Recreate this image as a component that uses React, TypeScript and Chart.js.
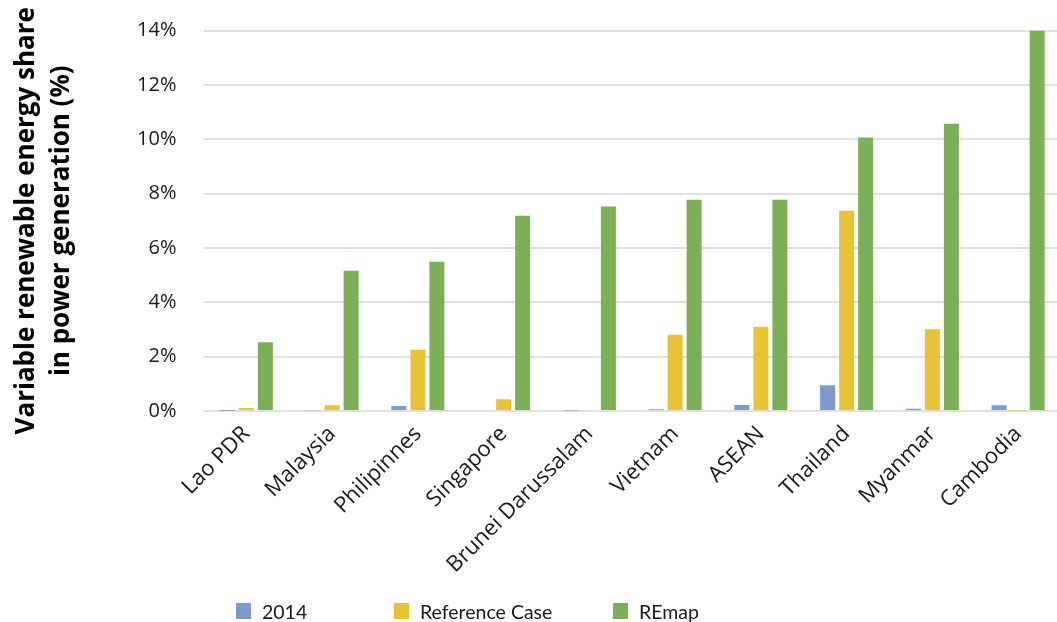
import React, { useEffect, useRef } from "react";
import { Chart, registerables } from "chart.js";

Chart.register(...registerables);

const categories = [
  "Lao PDR",
  "Malaysia",
  "Philipinnes",
  "Singapore",
  "Brunei Darussalam",
  "Vietnam",
  "ASEAN",
  "Thailand",
  "Myanmar",
  "Cambodia",
];

const seriesNames = ["2014", "Reference Case", "REmap"];
const seriesColors = ["#7D99CD", "#E8C336", "#7BB058"];

const values2014 = [0.01, 0.03, 0.18, 0.04, 0.02, 0.06, 0.22, 0.95, 0.08, 0.21];
const valuesReference = [0.11, 0.21, 2.25, 0.43, 0.0, 2.81, 3.1, 7.37, 3.01, 0.02];
const valuesREmap = [2.53, 5.16, 5.49, 7.18, 7.52, 7.77, 7.77, 10.06, 10.57, 14.0];

const yTicks = [0, 2, 4, 6, 8, 10, 12, 14];
const yTitle = ["Variable renewable energy share", "in power generation (%)"];

const FONT = "'Open Sans', Lato, sans-serif";
const LEGEND_FONT = "Lato, 'Open Sans', sans-serif";

export default function App() {
  const canvasRef = useRef<HTMLCanvasElement | null>(null);

  useEffect(() => {
    const canvas = canvasRef.current;
    if (!canvas) return;
    const seriesData = [values2014, valuesReference, valuesREmap];
    const chart = new Chart(canvas, {
      type: "bar",
      data: {
        labels: categories,
        datasets: seriesNames.map((name, i) => ({
          label: name,
          data: seriesData[i],
          backgroundColor: seriesColors[i],
          borderWidth: 0,
          categoryPercentage: 0.665,
          barPercentage: 0.79,
        })),
      },
      options: {
        responsive: false,
        animation: false,
        maintainAspectRatio: false,
        layout: { padding: { top: 30.5, left: 0, right: 0, bottom: 0 } },
        plugins: {
          legend: { display: false },
          tooltip: { enabled: false },
        },
        scales: {
          x: {
            grid: { display: false },
            border: { display: false },
            ticks: {
              maxRotation: 45,
              minRotation: 45,
              autoSkip: false,
              padding: 2,
              color: "#1a1a1a",
              font: { family: FONT, size: 22 },
            },
            afterFit: (scale: any) => {
              scale.height = 211;
            },
          },
          y: {
            min: 0,
            max: 14,
            afterBuildTicks: (scale: any) => {
              scale.ticks = yTicks.map((v) => ({ value: v }));
            },
            grid: {
              color: "#e0e0e0",
              lineWidth: 2,
              drawTicks: false,
            },
            border: { display: false },
            ticks: {
              padding: 27,
              color: "#1a1a1a",
              font: { family: FONT, size: 20 },
              callback: (v: any) => `${v}%`,
            },
            title: {
              display: true,
              text: yTitle,
              color: "#000",
              font: { family: FONT, size: 26, weight: "bold", lineHeight: 1.35 },
              padding: { top: 9, bottom: 0 },
            },
            afterFit: (scale: any) => {
              scale.width = 203.5;
              scale.paddingTop = 0;
              scale.paddingBottom = 0;
            },
          },
        },
      },
    });
    return () => chart.destroy();
  }, []);

  const legendLefts = [236, 394, 613];

  return (
    <div
      style={{
        position: "fixed",
        left: 0,
        top: 0,
        width: 1057,
        height: 622,
        overflow: "hidden",
        background: "#fff",
      }}
    >
      <canvas
        ref={canvasRef}
        width={1061}
        height={622}
        style={{ position: "absolute", left: 0, top: 0, width: 1061, height: 622 }}
      />
      {seriesNames.map((name, i) => (
        <div
          key={name}
          style={{
            position: "absolute",
            left: legendLefts[i],
            top: 600,
            display: "flex",
            alignItems: "center",
            height: 22,
            fontFamily: LEGEND_FONT,
            fontSize: 19.5,
            color: "#1a1a1a",
            whiteSpace: "nowrap",
          }}
        >
          <span
            style={{
              display: "inline-block",
              width: 15,
              height: 16,
              background: seriesColors[i],
              marginRight: 11,
            }}
          />
          <span>{name}</span>
        </div>
      ))}
    </div>
  );
}
